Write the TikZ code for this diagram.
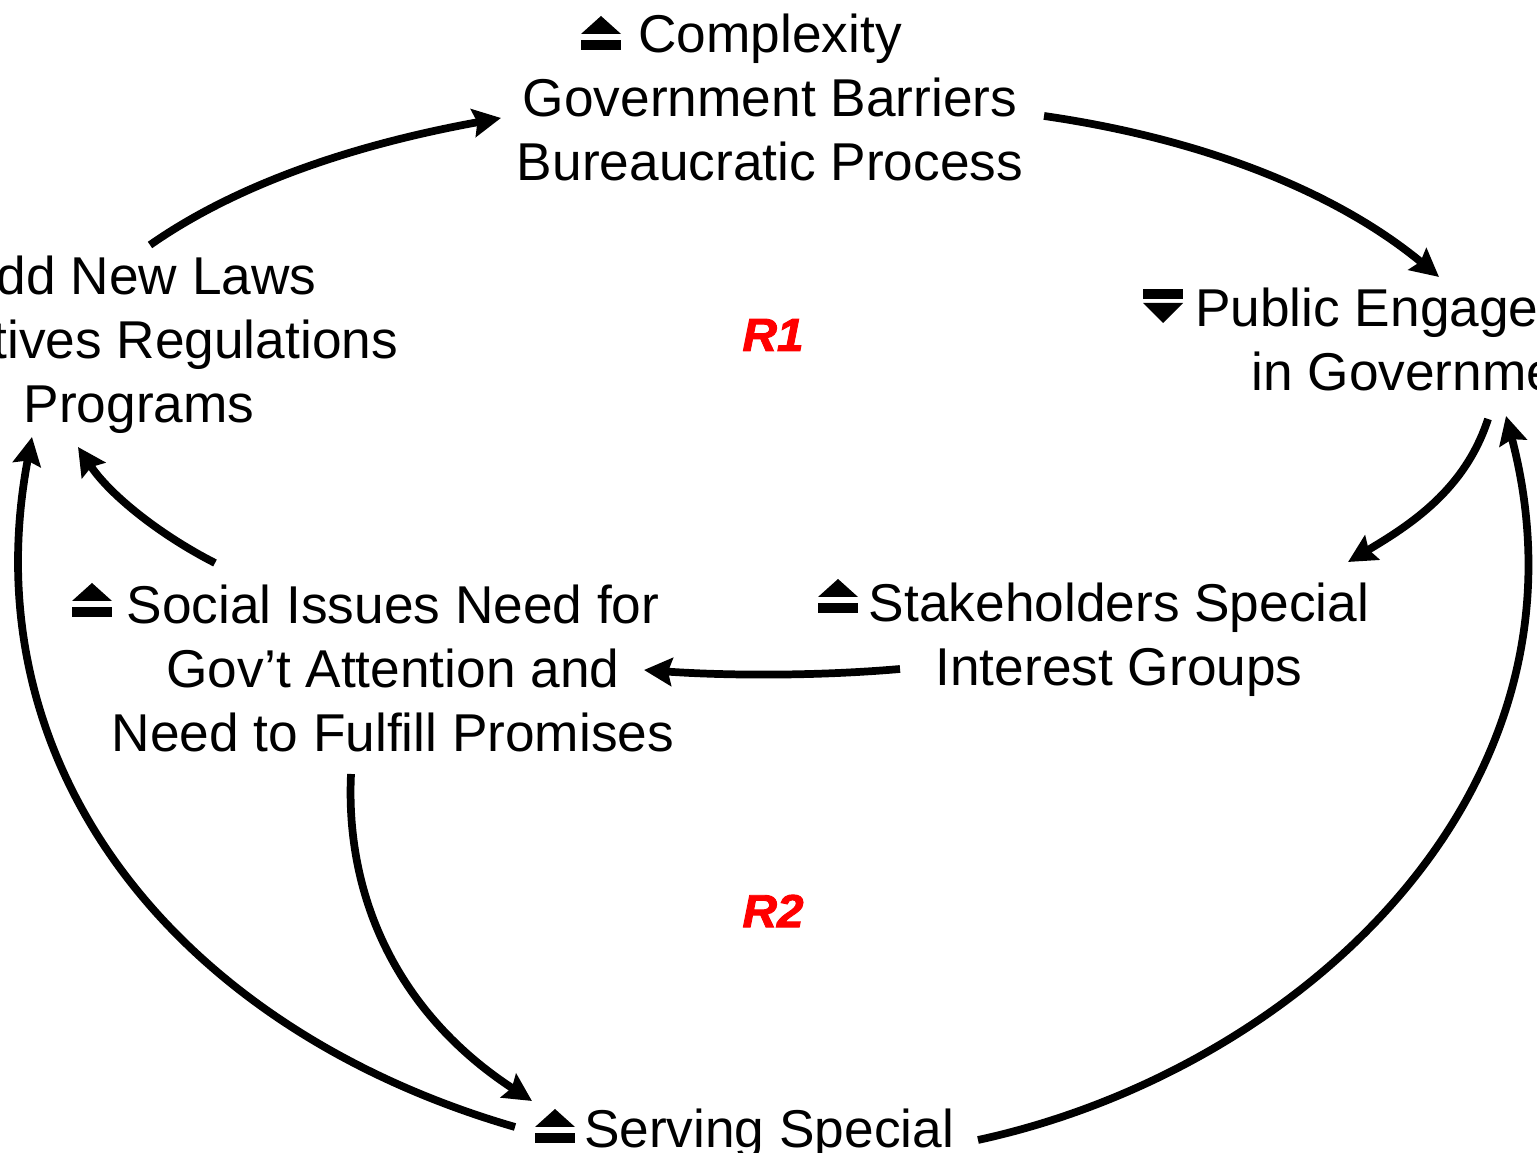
\documentclass[tikz,border=0pt]{standalone}
\usepackage{fontspec}
\setmainfont{Liberation Sans}
\newfontfamily\loopfont[BoldItalicFeatures={FakeStretch=1.03,FakeBold=2}]{Liberation Sans}
\usetikzlibrary{arrows.meta}
\tikzset{
    loopnode/.style={align=center,inner sep=0pt,font=\fontsize{15.15pt}{18.2pt}\selectfont,
        execute at begin node=\strut,execute at end node=\strut},
    looplabel/.style={text=red,inner sep=0pt,font=\fontsize{13.2pt}{15pt}\loopfont\bfseries\itshape},
    flow/.style={line width=2.2pt,-{Stealth[length=0.28cm,width=0.28cm,inset=0.04cm]}},
    upmark/.pic={
        \fill (-0.2,0) rectangle (0.2,0.1);
        \fill (-0.2,0.16) -- (0.2,0.16) -- (0,0.34) -- cycle;
    },
    downmark/.pic={
        \fill (-0.2,0) rectangle (0.2,-0.1);
        \fill (-0.2,-0.14) -- (0.2,-0.14) -- (0,-0.34) -- cycle;
    }
}
\begin{document}
\begin{tikzpicture}
    \useasboundingbox (0,0) rectangle (15.37,11.53);
    \clip (0,0) rectangle (15.37,11.53);
    \node[loopnode] (complexity) at (7.70,10.46) {Complexity\\Government Barriers\\Bureaucratic Process};
    \node[loopnode] (laws) at (1.39,8.04) {Add New Laws\\Initiatives Regulations\\Programs};
    \node[loopnode] (public) at (14.26,8.04) {Public Engagement\\in Government};
    \node[loopnode] (stake) at (11.19,5.09) {Stakeholders Special\\Interest Groups};
    \node[loopnode] (social) at (3.93,4.75) {Social Issues Need for\\Gov’t Attention and\\Need to Fulfill Promises};
    \node[loopnode] (serving) at (7.69,0.18) {Serving Special};
    \node[looplabel] (rone) at (7.73,8.18) {R1};
    \node[looplabel] (rtwo) at (7.73,2.42) {R2};
    \foreach \x/\y in {6.01/11.03,0.92/5.36,8.38/5.40,5.55/0.10}{
        \pic at (\x,\y) {upmark};
    }
    \pic at (11.63,8.64) {downmark};
    \draw[flow] ([shift={(0.11,1.04)}]laws.center) .. controls (2.50,9.78) and (3.80,10.13) .. ([shift={(-2.69,-0.11)}]complexity.center);
    \draw[flow] ([shift={(2.74,-0.09)}]complexity.center) .. controls (12.10,10.13) and (13.40,9.58) .. ([shift={(0.13,0.72)}]public.center);
    \draw[flow] ([shift={(0.62,-0.70)}]public.center) .. controls (14.65,6.63) and (14.10,6.28) .. ([shift={(2.29,0.82)}]stake.center);
    \draw[flow] ([shift={(-2.19,-0.25)}]stake.center) .. controls (8.20,4.77) and (7.30,4.77) .. ([shift={(2.51,0.08)}]social.center);
    \draw[flow] ([shift={(-1.78,1.15)}]social.center) .. controls (1.60,6.18) and (1.10,6.58) .. ([shift={(-0.61,-0.98)}]laws.center);
    \draw[flow] ([shift={(-0.42,-0.96)}]social.center) .. controls (3.45,2.53) and (4.00,1.38) .. ([shift={(-2.37,0.34)}]serving.center);
    \draw[flow] ([shift={(-2.54,0.08)}]serving.center) .. controls (1.80,1.23) and (-0.31,3.83) .. ([shift={(-1.07,-0.88)}]laws.center);
    \draw[flow] ([shift={(2.09,-0.05)}]serving.center) .. controls (13.00,0.83) and (16.04,3.63) .. ([shift={(0.80,-0.67)}]public.center);
\end{tikzpicture}
\end{document}
